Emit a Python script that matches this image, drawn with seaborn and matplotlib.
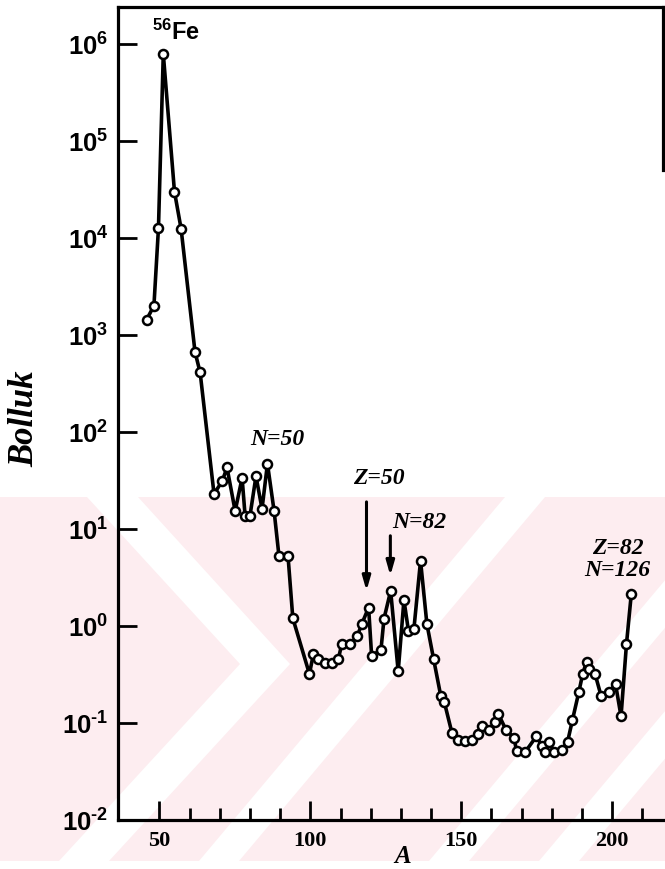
import matplotlib
matplotlib.use("Agg")
import matplotlib.pyplot as plt
import seaborn as sns
from matplotlib.patches import Polygon
from matplotlib.ticker import NullLocator

# Solar-system abundance vs. mass number A
mass_number = [45.8, 48.2, 49.7, 51.3, 55.0, 57.2, 61.8, 63.5, 68.1, 70.8,
               72.4, 75.1, 77.4, 78.4, 80.0, 82.0, 84.0, 85.8, 88.0, 89.6,
               92.6, 94.2, 99.7, 101.0, 102.7, 104.9, 107.1, 109.3, 110.4, 113.2,
               115.5, 117.0, 119.3, 120.3, 123.4, 124.4, 126.6, 129.1, 131.0, 132.5,
               134.3, 136.5, 138.6, 140.8, 143.2, 144.4, 146.9, 149.0, 151.1, 153.4,
               155.6, 156.9, 159.3, 161.2, 162.3, 164.8, 167.5, 168.3, 171.1, 174.9,
               176.7, 177.7, 179.2, 180.7, 183.4, 185.2, 186.8, 188.9, 190.2, 191.5,
               192.4, 194.3, 196.3, 198.9, 201.1, 202.9, 204.7, 206.3]
abundance = [1440, 2000, 12600, 7.9e5, 30000, 12400, 670, 410, 23, 31,
             43, 15.3, 33.6, 13.6, 13.6, 35, 16.1, 47, 15.3, 5.3,
             5.3, 1.2, 0.32, 0.51, 0.46, 0.42, 0.42, 0.46, 0.65, 0.65,
             0.78, 1.04, 1.55, 0.49, 0.57, 1.19, 2.3, 0.34, 1.85, 0.89,
             0.93, 4.7, 1.05, 0.46, 0.19, 0.163, 0.079, 0.067, 0.065, 0.067,
             0.077, 0.094, 0.085, 0.102, 0.123, 0.085, 0.070, 0.051, 0.050, 0.073,
             0.058, 0.050, 0.063, 0.050, 0.053, 0.064, 0.107, 0.207, 0.32, 0.43,
             0.36, 0.32, 0.19, 0.21, 0.25, 0.117, 0.65, 2.14]

x_major = [50, 100, 150, 200]
x_minor = [60, 70, 80, 90, 110, 120, 130, 140, 160, 170, 180, 190, 210]
y_exponents = [-2, -1, 0, 1, 2, 3, 4, 5, 6]

# Shell-closure markers: (label, A, arrow top, arrow tip)
closures = [("Z=50", 118.6, 19.0, 2.3), ("N=82", 126.5, 8.5, 3.3)]

sns.set_theme(style="ticks")
plt.rcParams["font.family"] = ["Liberation Sans", "DejaVu Sans"]
plt.rcParams["mathtext.fontset"] = "custom"
plt.rcParams["mathtext.rm"] = "Liberation Sans:bold"
plt.rcParams["mathtext.bf"] = "Liberation Sans:bold"
plt.rcParams["mathtext.it"] = "Liberation Sans:bold"

W, H = 665, 870
fig = plt.figure(figsize=(W / 100, H / 100), dpi=100, facecolor="white")


def fxy(x, y):
    return (x / W, 1 - y / H)


def decade_label(k):
    # exponent written with a short hyphen, as in typeset tables
    sign = "\u2010" if k < 0 else ""
    return f"$10^{{{sign}{abs(k)}}}$"


# light background emblem in the lower half of the page
pink = "#fdedf0"
fig.add_artist(Polygon([fxy(0, 498), fxy(W, 498), fxy(W, 862), fxy(0, 862)],
                       closed=True, facecolor=pink, edgecolor="none", zorder=0))
white_bands = [
    [(505, 498), (545, 498), (239, 862), (199, 862)],
    [(735, 498), (775, 498), (469, 862), (429, 862)],
    [(845, 498), (885, 498), (579, 862), (539, 862)],
    [(87, 498), (138, 498), (290, 665), (109, 862), (59, 862), (240, 665)],
]
for band in white_bands:
    fig.add_artist(Polygon([fxy(*p) for p in band], closed=True,
                           facecolor="white", edgecolor="none", zorder=0))

ax = fig.add_axes([118 / W, (H - 821) / H, (663 - 118) / W, (821 - 8) / H])
ax.patch.set_alpha(0)
ax.set_yscale("log")

sns.lineplot(x=mass_number, y=abundance, ax=ax, color="black", lw=2.6,
             marker="o", markersize=6.5, markerfacecolor="white",
             markeredgecolor="black", markeredgewidth=1.8, zorder=3)

ax.set_xlim(36.3, 216.8)
ax.set_ylim(1e-2, 10 ** 6.38)

ax.set_xticks(x_major, labels=[str(v) for v in x_major],
              fontfamily="Liberation Serif", fontweight="bold", fontsize=16)
ax.set_xticks(x_minor, minor=True)
ax.set_yticks([10.0 ** k for k in y_exponents],
              labels=[decade_label(k) for k in y_exponents], fontsize=18.5)
ax.yaxis.set_minor_locator(NullLocator())

ax.tick_params(axis="both", which="major", direction="in", length=14,
               width=2.0, color="black", labelcolor="black")
ax.tick_params(axis="x", which="major", pad=7)
ax.tick_params(axis="y", which="major", pad=7)
ax.tick_params(axis="x", which="minor", direction="in", length=9, width=2.0,
               color="black")

for side in ["left", "bottom", "top", "right"]:
    ax.spines[side].set_visible(True)
    ax.spines[side].set_linewidth(2.3)
    ax.spines[side].set_color("black")
ax.spines["right"].set_bounds(10 ** 4.7, 10 ** 6.38)

serif_label = dict(fontfamily="Liberation Serif", fontweight="bold",
                   fontstyle="italic", color="black")
ax.set_xlabel("A", fontsize=18, **serif_label)
ax.xaxis.set_label_coords((403 - 118) / 545, -0.029)
ax.set_ylabel("Bolluk", fontsize=25, va="center", **serif_label)
ax.yaxis.set_label_coords((25 - 118) / 545, (821 - 419) / 813)

ax.text(47.6, 10 ** 6.0, r"$^{56}$Fe", fontsize=17, fontweight="bold",
        ha="left", va="bottom", color="black")

ax.text(89.0, 85, "N=50", fontsize=17, ha="center", va="center", **serif_label)
ax.text(122.8, 34, "Z=50", fontsize=17, ha="center", va="center", **serif_label)
ax.text(136.2, 11.8, "N=82", fontsize=17, ha="center", va="center", **serif_label)
ax.text(201.8, 6.5, "Z=82", fontsize=17, ha="center", va="center", **serif_label)
ax.text(201.6, 3.85, "N=126", fontsize=17, ha="center", va="center", **serif_label)

for _, a, top, tip in closures:
    ax.annotate("", xy=(a, tip), xytext=(a, top),
                arrowprops=dict(arrowstyle="-|>,head_width=0.2,head_length=0.7",
                                color="black", lw=2.2, shrinkA=0, shrinkB=0))

fig.savefig("out.png", dpi=100, facecolor="white")
